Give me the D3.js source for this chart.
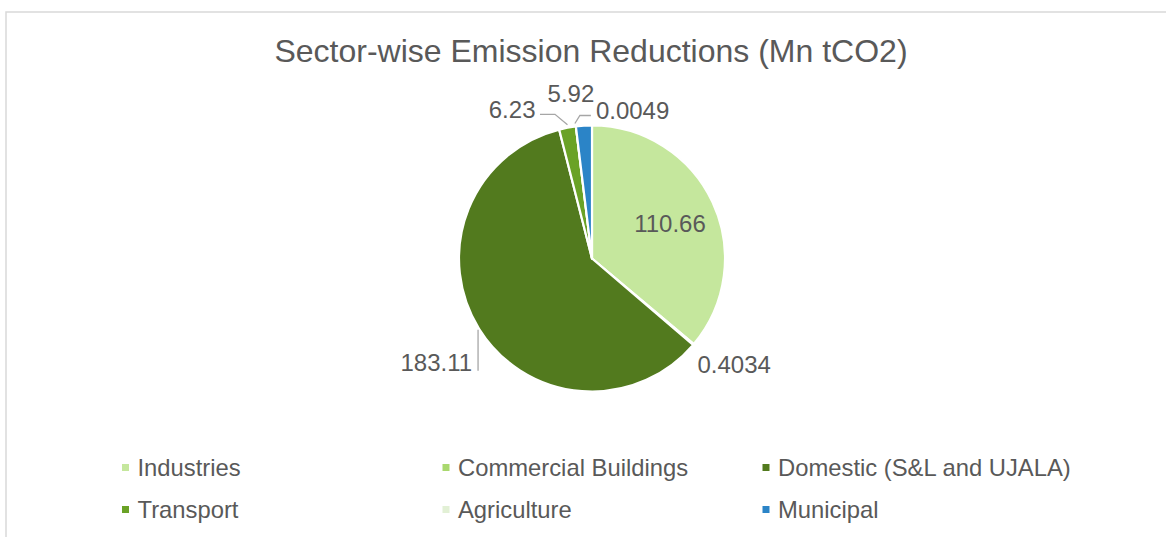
<!DOCTYPE html>
<html><head><meta charset="utf-8">
<script src="https://cdn.jsdelivr.net/npm/d3@7"></script>
<style>
html,body{margin:0;padding:0;background:#fff;}
svg{display:block;font-family:"Liberation Sans",Arial,sans-serif;}
</style></head>
<body><svg id="c" width="1166" height="537"></svg>
<script>
const title = "Sector-wise Emission Reductions (Mn tCO2)";
const categories = ["Industries","Commercial Buildings","Domestic (S&L and UJALA)","Transport","Agriculture","Municipal"];
const values = [110.66, 0.4034, 183.11, 6.23, 0.0049, 5.92];
const valueLabels = ["110.66","0.4034","183.11","6.23","0.0049","5.92"];
const colors = ["#c5e79d","#a9d86e","#527a1e","#6aa226","#e2f0d5","#2b84c7"];

const svg = d3.select("#c");
const cx = 592, cy = 258.5, R = 133;
const textColor = "#595959", leaderColor = "#a6a6a6";

// chart border
svg.append("rect").attr("x",6).attr("y",12).attr("width",1300).attr("height",700)
  .attr("fill","none").attr("stroke","#d9d9d9").attr("stroke-width",1.5);

svg.append("text").attr("x",591).attr("y",62).attr("text-anchor","middle")
  .attr("font-size",32).attr("fill",textColor).text(title);

const data = categories.map((c,i)=>({cat:c, value:values[i], label:valueLabels[i], color:colors[i]}));
const pie = d3.pie().sort(null).value(d=>d.value).startAngle(0).endAngle(2*Math.PI);
const arcs = pie(data);
const arc = d3.arc().innerRadius(0).outerRadius(R);
const g = svg.append("g").attr("transform",`translate(${cx},${cy})`);
g.selectAll("path").data(arcs).join("path")
  .attr("d",arc).attr("fill",d=>d.data.color)
  .attr("stroke","#fff").attr("stroke-width",2.2).attr("stroke-linejoin","round");

const mid = a => (a.startAngle + a.endAngle)/2;
const edge = (a, r) => [r*Math.sin(mid(a)), -r*Math.cos(mid(a))];
const fs = 24;
const lbl = (x,y,t,anchor) => g.append("text").attr("x",x).attr("y",y).attr("dy","0.36em")
  .attr("text-anchor",anchor).attr("font-size",fs).attr("fill",textColor).text(t);
const leader = pts => g.append("path").attr("d",d3.line()(pts)).attr("fill","none")
  .attr("stroke",leaderColor).attr("stroke-width",1.3);

{ const a = arcs[0]; const [x,y] = edge(a, R*0.63); lbl(x+2,y,a.data.label,"middle"); }
{ const a = arcs[1]; const [x,y] = edge(a, R); lbl(x+4,y+20,a.data.label,"start"); }
{ const a = arcs[2]; const [x,y] = edge(a, R); leader([[x-1,y+1],[x-1,y+42]]); lbl(x-7,y+34,a.data.label,"end"); }
{ const a = arcs[3]; const [x,y] = edge(a, R); leader([[x,y-3],[x-12.5,y-13.5],[x-27.5,y-13.5]]); lbl(x-32,y-18,a.data.label,"end"); }
{ const a = arcs[4]; const [x,y] = edge(a, R); leader([[x-1,y-3],[x+4,y-11],[x+15,y-11]]); lbl(x+20,y-16.5,a.data.label,"start"); }
{ const a = arcs[5]; const [x,y] = edge(a, R); lbl(x-13,y-32,a.data.label,"middle"); }

// legend
const lg = svg.append("g");
const colX = d3.scaleOrdinal().domain([0,1,2]).range([122,442.5,762.5]);
const rowY = d3.scaleOrdinal().domain([0,1]).range([467.5,509.5]);
data.forEach((d,i)=>{
  const x = colX(i%3), y = rowY(Math.floor(i/3));
  lg.append("rect").attr("x",x).attr("y",y-3.5).attr("width",7).attr("height",7).attr("fill",d.color);
  lg.append("text").attr("x",x+15.5).attr("y",y).attr("dy","0.36em").attr("font-size",23.8)
    .attr("fill",textColor).text(d.cat);
});
</script></body></html>
